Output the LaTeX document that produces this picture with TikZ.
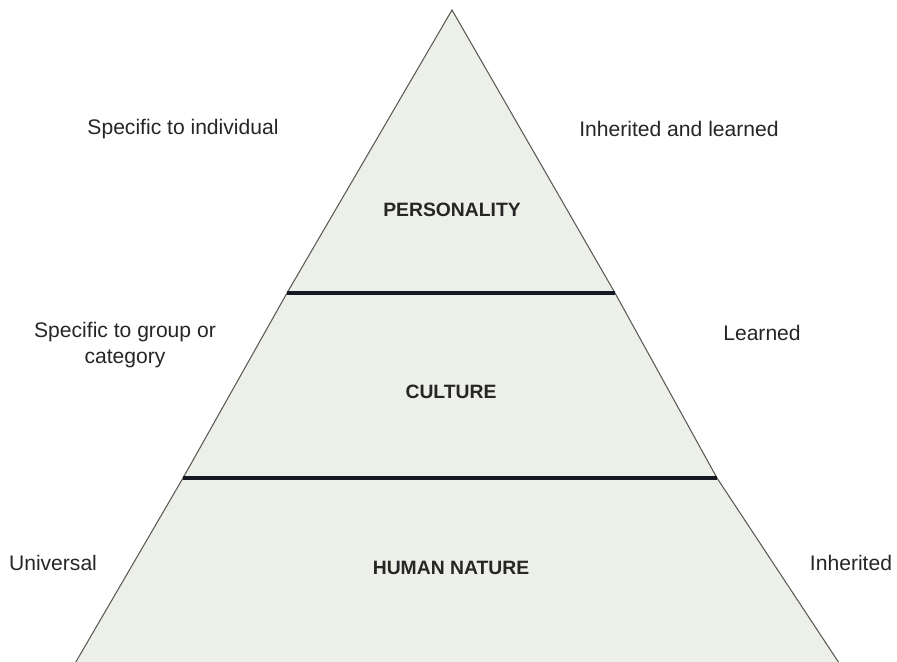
\documentclass[tikz,border=0pt]{standalone}
\usepackage{fontspec}
\setmainfont{Liberation Sans}
\definecolor{pyramidfill}{RGB}{237,240,233}
\definecolor{edgegray}{RGB}{90,90,85}
\definecolor{bandline}{RGB}{22,24,34}
\begin{document}
\begin{tikzpicture}[x=0.02cm, y=-0.02cm,
  every node/.style = {align=center, text=black!85,
    font=\fontsize{12}{14.5}\selectfont},
  layer/.style = {font=\fontsize{11}{13}\selectfont\bfseries},
  divider/.style = {draw=bandline, line width=2.6pt}]
  \useasboundingbox (0,0) rectangle (897,662);
  \clip (0,0) rectangle (897,662);
  \coordinate (apex) at (452,10);
  \coordinate (persL) at (287,293);
  \coordinate (persR) at (615,293);
  \coordinate (cultL) at (183,478);
  \coordinate (cultR) at (717,478);
  \coordinate (baseL) at (70,672);
  \coordinate (baseR) at (845,672);
  \filldraw[fill=pyramidfill, draw=edgegray, line width=0.6pt]
    (apex) -- (persL) -- (cultL) -- (baseL) -- (baseR)
    -- (cultR) -- (persR) -- cycle;
  \draw[divider] (persL) -- (persR);
  \draw[divider] (cultL) -- (cultR);
  \node (personality) [layer] at (452,210) {PERSONALITY};
  \node (culture) [layer] at (451,392) {CULTURE};
  \node (humannature) [layer] at (451,568) {HUMAN NATURE};
  \node (individual) at (183,129) {Specific to individual};
  \node (inhlearned) at (679,129) {Inherited and learned};
  \node (group) at (125,345) {Specific to group or\\category};
  \node (learned) at (762,333) {Learned};
  \node (universal) at (53,563) {Universal};
  \node (inherited) at (851,563) {Inherited};
\end{tikzpicture}
\end{document}
